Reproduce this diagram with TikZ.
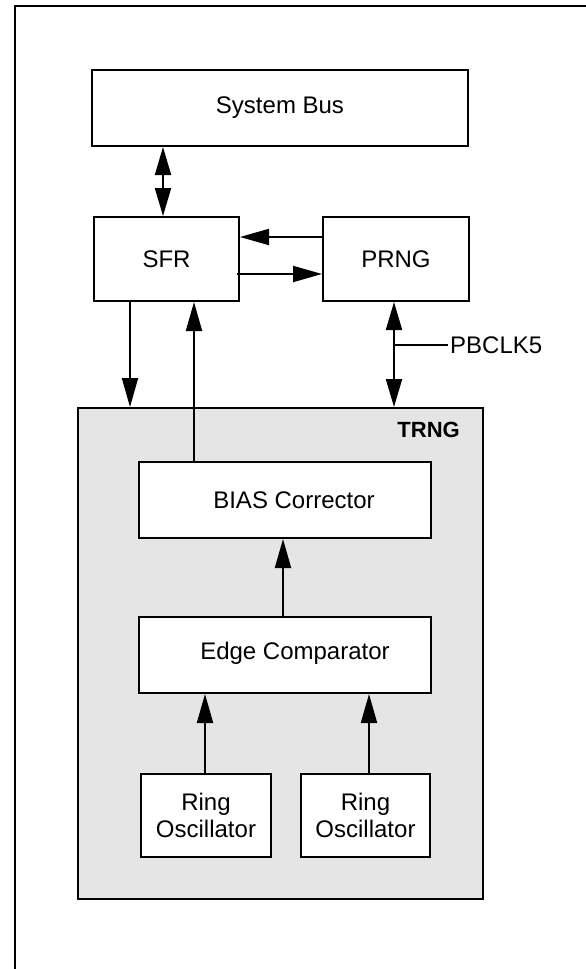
\documentclass[tikz,border=0pt]{standalone}
\usepackage{fontspec}
\setmainfont{Liberation Sans}
\usetikzlibrary{arrows.meta,calc}
\begin{document}
\begin{tikzpicture}[x=1pt,y=-1pt,
  box/.style={draw,line width=2pt,fill=white,inner sep=0pt,font=\fontsize{24}{27}\selectfont,align=center},
  lbl/.style={inner sep=0pt,font=\fontsize{24}{27}\selectfont},
  arr/.style={line width=2pt,-{Triangle[length=29pt,width=16pt]}},
  dbl/.style={line width=2pt,{Triangle[length=28pt,width=16pt]}-{Triangle[length=28pt,width=16pt]}},
  thin line/.style={line width=1.6pt}]
\useasboundingbox (0,0) rectangle (586,969);
% outer frame (top and left edges)
\coordinate (fbl) at (15,969);
\coordinate (ftl) at (15,5.5);
\coordinate (ftr) at (586,5.5);
\draw[line width=2pt] (fbl) -- (ftl) -- (ftr);
% boxes
\node[box,minimum width=376pt,minimum height=76pt] (sb) at (280,108) {System Bus};
\node[box,minimum width=145pt,minimum height=84pt] (sfr) at (166.5,259) {SFR};
\node[box,minimum width=146pt,minimum height=84pt] (prng) at (396,259) {PRNG};
\node[draw,line width=2pt,fill=gray!20,inner sep=0pt,minimum width=405pt,minimum height=491pt] (trng) at (280.5,653.5) {};
\node[inner sep=0pt,anchor=east,font=\fontsize{22}{26}\selectfont\bfseries] (trnglbl) at (460,429.5) {TRNG};
\node[box,minimum width=292pt,minimum height=76pt] (bias) at (285,500) {};
\node[lbl] (biastxt) at ([xshift=9pt]bias.center) {BIAS Corrector};
\node[box,minimum width=292pt,minimum height=76pt] (edge) at (285,655) {};
\node[lbl] (edgetxt) at ([xshift=10pt,yshift=2pt]edge.center) {Edge Comparator};
\node[box,minimum width=130pt,minimum height=83pt] (ro1) at (206,815.5) {Ring\\Oscillator};
\node[box,minimum width=129pt,minimum height=83pt] (ro2) at (365.5,815.5) {Ring\\Oscillator};
% helper coordinates
\coordinate (xa) at (163,0);
\coordinate (xb) at (130,0);
\coordinate (xc) at (194,0);
\coordinate (xd) at (394,0);
\coordinate (xe) at (283,0);
\coordinate (xf) at (205,0);
\coordinate (xg) at (369,0);
\coordinate (ya) at (0,237);
\coordinate (yb) at (0,274);
\coordinate (sfrin) at (237,274);
\coordinate (clkj) at (394,345);
\coordinate (clke) at (448,345);
% connectors
\draw[dbl] (sb.south -| xa) -- (sfr.north -| xa);
\draw[arr] (prng.west |- ya) -- (sfr.east |- ya);
\draw[arr] (sfrin) -- (prng.west |- yb);
\draw[arr] (sfr.south -| xb) -- (trng.north -| xb);
\draw[arr] (bias.north -| xc) -- (sfr.south -| xc);
\draw[dbl] (prng.south -| xd) -- (trng.north -| xd);
\draw[thin line] (clkj) -- (clke);
\node[lbl,anchor=west] (clk) at (450,345) {PBCLK5};
\draw[arr] (edge.north -| xe) -- (bias.south -| xe);
\draw[arr] (ro1.north -| xf) -- (edge.south -| xf);
\draw[arr] (ro2.north -| xg) -- (edge.south -| xg);
\end{tikzpicture}
\end{document}
